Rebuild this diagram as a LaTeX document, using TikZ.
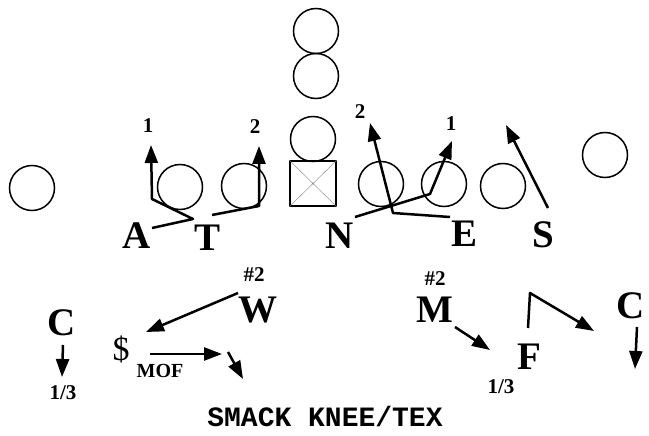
\documentclass[tikz,border=0pt]{standalone}
\usepackage{fontspec}
\setmainfont{Liberation Serif}
\setmonofont{Liberation Mono}
\usetikzlibrary{arrows.meta}
\begin{document}
\begin{tikzpicture}[x=1pt,y=-1pt,
  man/.style={circle,draw,line width=1.5pt,minimum size=45pt,inner sep=0pt},
  ctr/.style={rectangle,draw,line width=1.7pt,minimum width=46pt,minimum height=45pt,inner sep=0pt},
  defender/.style={font=\fontsize{39}{39}\selectfont\bfseries,inner sep=0pt,anchor=base},
  tag/.style={font=\fontsize{21}{21}\selectfont\bfseries,inner sep=0pt,anchor=base},
  route/.style={line width=2.5pt,line join=round,-{Triangle[length=18pt,width=13pt]}},
]
\useasboundingbox (0,0) rectangle (649,436);

% offense
\node[man] (wl) at (32,188) {};
\node[man] (lt) at (180,187) {};
\node[man] (lg) at (244,186) {};
\node[ctr] (c) at (313,183.5) {};
\draw[line width=0.4pt,gray] (c.north west) -- (c.south east) (c.north east) -- (c.south west);
\node[man] (qb) at (313,139) {};
\node[man] (b1) at (316,76) {};
\node[man] (b2) at (316,31) {};
\node[man] (rg) at (381,184) {};
\node[man] (rt) at (444,184) {};
\node[man] (te) at (503,186) {};
\node[man] (wr) at (605,155) {};

% defense
\node[defender] (A) at (137,248) {A};
\node[defender] (T) at (208,251) {T};
\node[defender] (N) at (340,248) {N};
\node[defender] (E) at (465,246) {E};
\node[defender] (S) at (543,247) {S};
\node[defender] (W) at (257.5,322) {W};
\node[defender] (M) at (435,322) {M};
\node[defender] (F) at (529,369) {F};
\node[defender] (CL) at (62,335) {C};
\node[defender] (CR) at (631,318) {C};
\node[font=\fontsize{34}{34}\selectfont,inner sep=0pt,anchor=base] (D) at (121,360) {\$};
\node[font=\fontsize{20}{20}\selectfont\bfseries,inner sep=0pt,anchor=base] (mof) at (160,377) {MOF};

% gap numbers and zone tags
\node[tag] (a1) at (148,133) {1};
\node[tag] (t2) at (255,134) {2};
\node[tag] (e2) at (360,119) {2};
\node[tag] (n1) at (451,131) {1};
\node[tag] (w2) at (254,281) {\#2};
\node[tag] (m2) at (435,285) {\#2};
\node[tag] (c13) at (63,399) {1/3};
\node[tag] (f13) at (501,393) {1/3};
\node[font=\fontsize{28}{28}\selectfont\ttfamily\bfseries,inner sep=0pt,anchor=base] (title) at (325,426) {SMACK KNEE/TEX};

% route points
\coordinate (ra0) at (152,228); \coordinate (ra1) at (193,219); \coordinate (ra2) at (152,199); \coordinate (ra3) at (151,145);
\coordinate (rt0) at (212,215); \coordinate (rt1) at (259,206); \coordinate (rt2) at (259,146);
\coordinate (rn0) at (355,217); \coordinate (rn1) at (430,194); \coordinate (rn2) at (452,141);
\coordinate (re0) at (450,217); \coordinate (re1) at (393,213); \coordinate (re2) at (370,123);
\coordinate (rs0) at (548,208); \coordinate (rs1) at (506,125);
\coordinate (rw0) at (238,293); \coordinate (rw1) at (146,332);
\coordinate (rd0) at (150,354); \coordinate (rd1) at (222,354);
\coordinate (rd2) at (228,352); \coordinate (rd3) at (243,379);
\coordinate (rc0) at (63,345); \coordinate (rc1) at (62,377);
\coordinate (rm0) at (455,327); \coordinate (rm1) at (490,350);
\coordinate (rf0) at (528,328); \coordinate (rf1) at (530,293); \coordinate (rf2) at (594,331);
\coordinate (rr0) at (637,327); \coordinate (rr1) at (635,369);

% routes
\draw[route] (ra0) -- (ra1) -- (ra2) -- (ra3);
\draw[route] (rt0) -- (rt1) -- (rt2);
\draw[route] (rn0) -- (rn1) -- (rn2);
\draw[route] (re0) -- (re1) -- (re2);
\draw[route] (rs0) -- (rs1);
\draw[route] (rw0) -- (rw1);
\draw[route] (rd0) -- (rd1);
\draw[route] (rd2) -- (rd3);
\draw[route] (rc0) -- (rc1);
\draw[route] (rm0) -- (rm1);
\draw[route] (rf0) -- (rf1) -- (rf2);
\draw[route] (rr0) -- (rr1);
\end{tikzpicture}
\end{document}
